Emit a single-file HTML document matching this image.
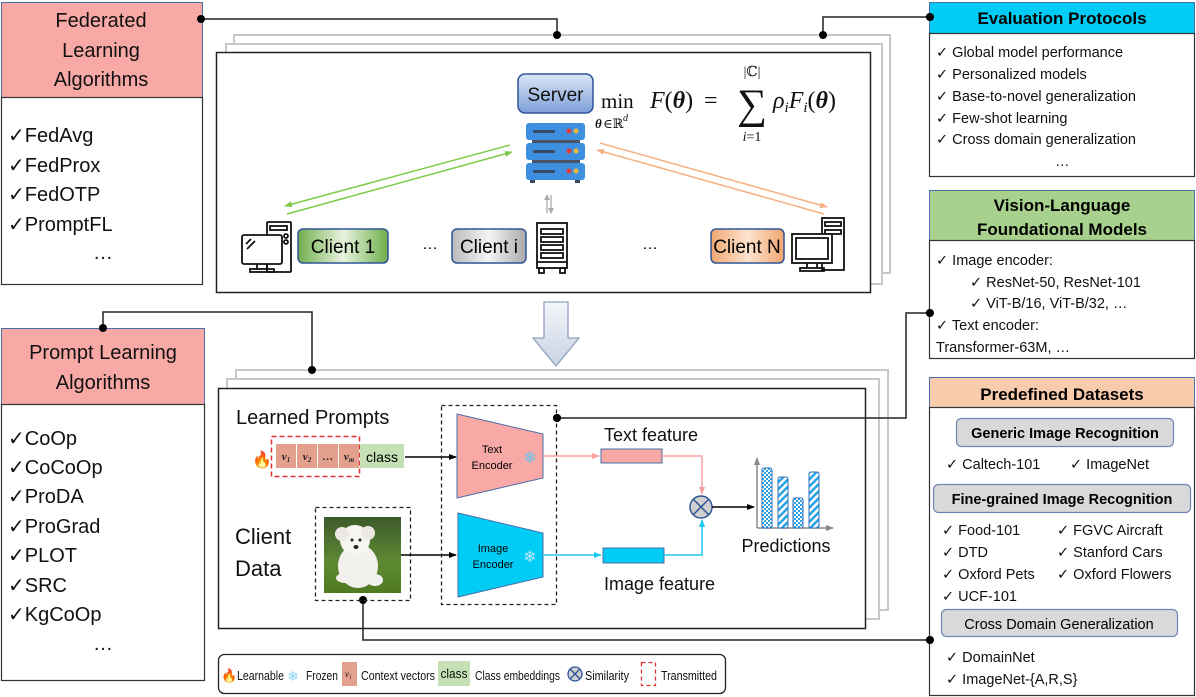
<!DOCTYPE html>
<html><head><meta charset="utf-8"><style>
html,body{margin:0;padding:0;background:#fff;}
svg{display:block;font-family:"Liberation Sans","DejaVu Sans",sans-serif;}
</style></head><body>
<svg width="1196" height="697" viewBox="0 0 1196 697" xmlns="http://www.w3.org/2000/svg">
<defs>
<linearGradient id="gSrv" x1="0" y1="0" x2="0" y2="1"><stop offset="0" stop-color="#dbe6f7"/><stop offset="1" stop-color="#7d9fd6"/></linearGradient>
<linearGradient id="gC1" x1="0" y1="0" x2="1" y2="0"><stop offset="0" stop-color="#6fae4b"/><stop offset="0.5" stop-color="#e8f3df"/><stop offset="1" stop-color="#6fae4b"/></linearGradient>
<linearGradient id="gCi" x1="0" y1="0" x2="1" y2="0"><stop offset="0" stop-color="#bbb"/><stop offset="0.5" stop-color="#f4f4f4"/><stop offset="1" stop-color="#aaa"/></linearGradient>
<linearGradient id="gCN" x1="0" y1="0" x2="1" y2="0"><stop offset="0" stop-color="#f0a670"/><stop offset="0.5" stop-color="#fde3cf"/><stop offset="1" stop-color="#f0a670"/></linearGradient>
<linearGradient id="gArr" x1="0" y1="0" x2="0" y2="1"><stop offset="0" stop-color="#f4f6fa"/><stop offset="1" stop-color="#c9d3e3"/></linearGradient>
<linearGradient id="gDog" x1="0" y1="0" x2="0" y2="1"><stop offset="0" stop-color="#3d5a2a"/><stop offset="0.6" stop-color="#5e8a34"/><stop offset="1" stop-color="#4f7a22"/></linearGradient>
<pattern id="pChk" width="4" height="4" patternUnits="userSpaceOnUse"><rect width="4" height="4" fill="#fff"/><rect width="2" height="2" fill="#29a3e6"/><rect x="2" y="2" width="2" height="2" fill="#29a3e6"/></pattern>
<pattern id="pDiag" width="5" height="5" patternUnits="userSpaceOnUse" patternTransform="rotate(45)"><rect width="5" height="5" fill="#fff"/><rect width="2.5" height="5" fill="#29a3e6"/></pattern>
<marker id="aBk" markerWidth="8" markerHeight="8" refX="7" refY="4" orient="auto" markerUnits="userSpaceOnUse"><path d="M0,1 L8,4 L0,7 Z" fill="#000"/></marker>
<marker id="aGr" markerWidth="8" markerHeight="8" refX="7" refY="4" orient="auto" markerUnits="userSpaceOnUse"><path d="M0,1 L8,4 L0,7 Z" fill="#7ecb4a"/></marker>
<marker id="aOr" markerWidth="8" markerHeight="8" refX="7" refY="4" orient="auto" markerUnits="userSpaceOnUse"><path d="M0,1 L8,4 L0,7 Z" fill="#f4b183"/></marker>
<marker id="aPk" markerWidth="8" markerHeight="8" refX="7" refY="4" orient="auto" markerUnits="userSpaceOnUse"><path d="M0,1 L8,4 L0,7 Z" fill="#f6a0a0"/></marker>
<marker id="aBl" markerWidth="8" markerHeight="8" refX="7" refY="4" orient="auto" markerUnits="userSpaceOnUse"><path d="M0,1 L8,4 L0,7 Z" fill="#1ec8f5"/></marker>
<marker id="aGy" markerWidth="8" markerHeight="8" refX="7" refY="4" orient="auto" markerUnits="userSpaceOnUse"><path d="M0,1 L8,4 L0,7 Z" fill="#888"/></marker>
<marker id="aGs" markerWidth="6" markerHeight="6" refX="5" refY="3" orient="auto" markerUnits="userSpaceOnUse"><path d="M0,0 L6,3 L0,6 Z" fill="#aaa"/></marker>
</defs>

<!-- Left: Federated Learning Algorithms -->
<rect x="1.5" y="2.5" width="201" height="95" fill="#f8a9a6" stroke="#4a6ea9" stroke-width="1"/>
<rect x="1.5" y="97.5" width="201" height="187" fill="#fff" stroke="#333" stroke-width="1.2"/>
<g font-size="20" text-anchor="middle" fill="#111">
<text x="101" y="27">Federated</text><text x="101" y="57">Learning</text><text x="101" y="86">Algorithms</text>
</g>
<g font-size="20" fill="#111">
<text x="8" y="142">✓FedAvg</text><text x="8" y="172">✓FedProx</text><text x="8" y="201">✓FedOTP</text><text x="8" y="231">✓PromptFL</text><text x="93" y="259">…</text>
</g>

<!-- Left: Prompt Learning Algorithms -->
<rect x="1.5" y="328.5" width="203" height="76" fill="#f8a9a6" stroke="#4a6ea9" stroke-width="1"/>
<rect x="1.5" y="404.5" width="203" height="276" fill="#fff" stroke="#333" stroke-width="1.2"/>
<g font-size="20" text-anchor="middle" fill="#111">
<text x="103" y="359">Prompt Learning</text><text x="103" y="389">Algorithms</text>
</g>
<g font-size="20" fill="#111">
<text x="8" y="445">✓CoOp</text><text x="8" y="474">✓CoCoOp</text><text x="8" y="503">✓ProDA</text><text x="8" y="533">✓ProGrad</text><text x="8" y="562">✓PLOT</text><text x="8" y="592">✓SRC</text><text x="8" y="621">✓KgCoOp</text><text x="93" y="650">…</text>
</g>

<!-- Top panel stacked -->
<rect x="234" y="35" width="656" height="238" fill="#fff" stroke="#c8c8c8" stroke-width="2"/>
<rect x="226" y="44" width="656" height="240" fill="#fff" stroke="#c8c8c8" stroke-width="2"/>
<rect x="216.5" y="52.5" width="654" height="240" fill="#fff" stroke="#222" stroke-width="1.5"/>

<!-- bottom panel stacked -->
<rect x="236" y="370" width="652" height="240" fill="#fff" stroke="#c8c8c8" stroke-width="2"/>
<rect x="227" y="379" width="652" height="240" fill="#fff" stroke="#c8c8c8" stroke-width="2"/>
<rect x="218.5" y="388.5" width="647" height="240" fill="#fff" stroke="#222" stroke-width="1.5"/>

<!-- connectors -->
<g stroke="#222" stroke-width="1.5" fill="none">
<polyline points="201,19 557,19 557,35"/>
<polyline points="930,17 823,17 823,35"/>
<polyline points="103,328 103,312 312,312 312,370"/>
<polyline points="930,313 906,313 906,418 557,418"/>
<polyline points="930,640 363,640 363,600"/>
</g>
<g fill="#000">
<circle cx="201" cy="19" r="4"/><circle cx="557" cy="35" r="4"/><circle cx="930" cy="17" r="4"/><circle cx="823" cy="35" r="4"/>
<circle cx="103" cy="328" r="4"/><circle cx="312" cy="370" r="4"/><circle cx="930" cy="313" r="4"/><circle cx="557" cy="418" r="4"/>
<circle cx="930" cy="640" r="4"/><circle cx="363" cy="600" r="4"/>
</g>

<!-- server -->
<rect x="518" y="74" width="75" height="39" rx="7" fill="url(#gSrv)" stroke="#2f5597" stroke-width="1.5"/>
<text x="555.5" y="101" font-size="19" text-anchor="middle" fill="#111">Server</text>
<g>
<rect x="532" y="140" width="48" height="6" fill="#4a5568"/><rect x="532" y="160" width="48" height="6" fill="#4a5568"/>
<rect x="526" y="123" width="59" height="17" rx="3" fill="#3d8fe0"/>
<rect x="526" y="143" width="59" height="17" rx="3" fill="#3d8fe0"/>
<rect x="526" y="163" width="59" height="17" rx="3" fill="#3d8fe0"/>
<g fill="#3b4a63"><rect x="533" y="130" width="22" height="3" rx="1"/><rect x="533" y="150" width="22" height="3" rx="1"/><rect x="533" y="170" width="22" height="3" rx="1"/>
<rect x="530" y="180" width="5" height="3"/><rect x="575" y="180" width="5" height="3"/></g>
<g fill="#e53935"><circle cx="569" cy="131" r="2.5"/><circle cx="569" cy="151" r="2.5"/><circle cx="569" cy="171" r="2.5"/></g>
<g fill="#f6b93b"><circle cx="576" cy="131" r="2.5"/><circle cx="576" cy="151" r="2.5"/><circle cx="576" cy="171" r="2.5"/></g>
</g>
<!-- formula -->
<g font-family="'Liberation Serif','DejaVu Serif',serif" fill="#111">
<text x="601" y="108" font-size="21">min</text>
<text x="595" y="128" font-size="13" font-weight="bold" font-style="italic">θ</text><text x="603" y="128" font-size="13">∈ℝ</text><text x="623" y="121" font-size="10" font-style="italic">d</text>
<text x="650" y="108" font-size="24"><tspan font-style="italic">F</tspan>(<tspan font-weight="bold" font-style="italic">θ</tspan>)</text>
<text x="704" y="108" font-size="24">=</text>
<text x="752" y="76" font-size="14" text-anchor="middle">|ℂ|</text>
<text x="752" y="118" font-size="42" text-anchor="middle">∑</text>
<text x="752" y="141" font-size="14" text-anchor="middle"><tspan font-style="italic">i</tspan>=1</text>
<text x="773" y="108" font-size="24"><tspan font-style="italic">ρ</tspan><tspan font-size="15" font-style="italic" dy="4">i</tspan><tspan font-style="italic" dy="-4">F</tspan><tspan font-size="15" font-style="italic" dy="4">i</tspan><tspan dy="-4">(</tspan><tspan font-weight="bold" font-style="italic">θ</tspan>)</text>
</g>
<!-- arrows -->
<line x1="510" y1="145" x2="285" y2="206" stroke="#7ecb4a" stroke-width="1.5" marker-end="url(#aGr)"/>
<line x1="287" y1="214" x2="512" y2="152" stroke="#7ecb4a" stroke-width="1.5" marker-end="url(#aGr)"/>
<line x1="600" y1="143" x2="827" y2="207" stroke="#f4b183" stroke-width="1.5" marker-end="url(#aOr)"/>
<line x1="824" y1="214" x2="597" y2="150" stroke="#f4b183" stroke-width="1.5" marker-end="url(#aOr)"/>
<line x1="547" y1="213" x2="547" y2="195" stroke="#aaa" stroke-width="1.3" marker-end="url(#aGs)"/>
<line x1="551" y1="195" x2="551" y2="213" stroke="#aaa" stroke-width="1.3" marker-end="url(#aGs)"/>
<!-- PC icon 1 -->
<g fill="none" stroke="#111" stroke-width="1.8">
<rect x="267" y="222" width="24" height="50" rx="1"/><rect x="270" y="226" width="17" height="4"/><circle cx="286" cy="236" r="2"/><circle cx="286" cy="242" r="2"/>
<rect x="242" y="235" width="40" height="29" rx="2" fill="#fff"/><line x1="246" y1="244" x2="251" y2="239"/><line x1="247" y1="249" x2="255" y2="241"/>
<line x1="257" y1="264" x2="257" y2="269"/><line x1="267" y1="264" x2="267" y2="269"/><rect x="250" y="269" width="24" height="3"/>
</g>
<rect x="298" y="229" width="90" height="34" rx="5" fill="url(#gC1)" stroke="#2f5597" stroke-width="1.5"/>
<text x="343" y="253" font-size="19" text-anchor="middle">Client 1</text>
<text x="430" y="249" font-size="16" text-anchor="middle">…</text>
<rect x="452" y="229" width="74" height="34" rx="5" fill="url(#gCi)" stroke="#2f5597" stroke-width="1.5"/>
<text x="489" y="253" font-size="19" text-anchor="middle">Client i</text>
<!-- rack -->
<g fill="none" stroke="#111" stroke-width="1.8">
<rect x="537" y="223" width="30" height="45"/><rect x="541" y="229" width="22" height="5"/><rect x="541" y="237" width="22" height="5"/><rect x="541" y="245" width="22" height="5"/><rect x="541" y="253" width="22" height="5"/>
<line x1="537" y1="262" x2="567" y2="262"/><rect x="539" y="268" width="5" height="5"/><rect x="560" y="268" width="5" height="5"/>
</g>
<text x="650" y="249" font-size="16" text-anchor="middle">…</text>
<rect x="711" y="229" width="73" height="34" rx="5" fill="url(#gCN)" stroke="#2f5597" stroke-width="1.5"/>
<text x="747" y="253" font-size="19" text-anchor="middle">Client N</text>
<!-- PC icon N -->
<g fill="none" stroke="#111" stroke-width="1.8">
<rect x="822" y="218" width="22" height="52"/><rect x="825" y="222" width="16" height="4"/><rect x="825" y="230" width="16" height="4"/>
<rect x="792" y="234" width="40" height="29" fill="#fff"/><rect x="796" y="238" width="32" height="21"/>
<line x1="807" y1="263" x2="807" y2="268"/><line x1="817" y1="263" x2="817" y2="268"/><rect x="800" y="268" width="24" height="3"/>
</g>

<!-- big down arrow -->
<path d="M544,302 L568,302 L568,338 L579,338 L556,366 L533,338 L544,338 Z" fill="url(#gArr)" stroke="#8fa2c0" stroke-width="1.3"/>

<text x="236" y="424" font-size="20" fill="#111">Learned Prompts</text>
<text x="252" y="465" font-size="16">🔥</text>
<rect x="271.5" y="436.5" width="88" height="40" fill="none" stroke="#e03030" stroke-width="1.5" stroke-dasharray="5,3"/>
<g fill="#e3a08c"><rect x="276" y="444" width="20" height="24"/><rect x="297" y="444" width="20" height="24"/><rect x="318" y="444" width="20" height="24"/><rect x="339" y="444" width="20" height="24"/></g>
<g font-family="'Liberation Serif',serif" font-size="11" font-weight="bold" font-style="italic" text-anchor="middle" fill="#222">
<text x="286" y="460">v<tspan font-size="7" dy="2">1</tspan></text><text x="307" y="460">v<tspan font-size="7" dy="2">2</tspan></text><text x="328" y="460">…</text><text x="349" y="460">v<tspan font-size="7" dy="2">m</tspan></text>
</g>
<rect x="360" y="444" width="44" height="24" fill="#c5e0b4"/>
<text x="382" y="462" font-size="14" text-anchor="middle">class</text>
<line x1="405" y1="457" x2="456" y2="457" stroke="#000" stroke-width="1.5" marker-end="url(#aBk)"/>

<text x="235" y="544" font-size="22" fill="#111">Client</text>
<text x="235" y="576" font-size="22" fill="#111">Data</text>
<rect x="315.5" y="507.5" width="95" height="93" fill="none" stroke="#222" stroke-width="1.3" stroke-dasharray="4,3"/>
<rect x="324" y="517" width="77" height="76" fill="url(#gDog)"/>
<ellipse cx="358" cy="566" rx="20" ry="22" fill="#f3f1ee"/><circle cx="355" cy="540" r="15" fill="#f7f5f2"/>
<circle cx="342" cy="534" r="7" fill="#ece9e4"/><circle cx="368" cy="533" r="7" fill="#ece9e4"/>
<circle cx="352" cy="540" r="1.5" fill="#222"/><circle cx="360" cy="540" r="1.5" fill="#222"/><ellipse cx="356" cy="547" rx="2.5" ry="2" fill="#222"/>
<ellipse cx="345" cy="578" rx="9" ry="5" fill="#f3f1ee"/><ellipse cx="375" cy="580" rx="8" ry="6" fill="#f3f1ee"/>
<line x1="401" y1="555" x2="456" y2="555" stroke="#000" stroke-width="1.5" marker-end="url(#aBk)"/>

<rect x="441.5" y="405.5" width="115" height="199" fill="none" stroke="#222" stroke-width="1.3" stroke-dasharray="4,3"/>
<circle cx="557" cy="418" r="4" fill="#000"/>
<path d="M457,414 L543,434 L543,478 L457,498 Z" fill="#f8a9a6" stroke="#4a6ea9" stroke-width="1"/>
<text x="492" y="453" font-size="11" text-anchor="middle">Text</text><text x="492" y="469" font-size="11" text-anchor="middle">Encoder</text>
<text x="530" y="463" font-size="16" text-anchor="middle" fill="#69c6ee">❄</text>
<path d="M458,513 L543,533 L543,577 L458,597 Z" fill="#00ccf5" stroke="#4a6ea9" stroke-width="1"/>
<text x="493" y="552" font-size="11" text-anchor="middle">Image</text><text x="493" y="568" font-size="11" text-anchor="middle">Encoder</text>
<text x="530" y="562" font-size="16" text-anchor="middle" fill="#bfe9fa">❄</text>

<text x="604" y="441" font-size="18" fill="#111">Text feature</text>
<line x1="543" y1="456" x2="599" y2="456" stroke="#f6a0a0" stroke-width="1.5" marker-end="url(#aPk)"/>
<rect x="601" y="449" width="61" height="14" fill="#f8a9a6" stroke="#4a6ea9" stroke-width="1"/>
<polyline points="662,456 702,456 702,494" fill="none" stroke="#f6a0a0" stroke-width="1.5" marker-end="url(#aPk)"/>
<line x1="543" y1="555" x2="601" y2="555" stroke="#1ec8f5" stroke-width="1.5" marker-end="url(#aBl)"/>
<rect x="603" y="548" width="61" height="15" fill="#00ccf5" stroke="#4a6ea9" stroke-width="1"/>
<polyline points="664,555 702,555 702,520" fill="none" stroke="#1ec8f5" stroke-width="1.5" marker-end="url(#aBl)"/>
<text x="604" y="590" font-size="18" fill="#111">Image feature</text>
<circle cx="701" cy="507" r="11" fill="#d0d0d0" stroke="#2f5597" stroke-width="1.5"/>
<line x1="693" y1="499" x2="709" y2="515" stroke="#2f5597" stroke-width="1.5"/><line x1="709" y1="499" x2="693" y2="515" stroke="#2f5597" stroke-width="1.5"/>
<line x1="712" y1="507" x2="754" y2="507" stroke="#000" stroke-width="1.5" marker-end="url(#aBk)"/>
<line x1="757" y1="528" x2="757" y2="458" stroke="#888" stroke-width="1.5" marker-end="url(#aGy)"/>
<line x1="757" y1="528" x2="833" y2="528" stroke="#888" stroke-width="1.5" marker-end="url(#aGy)"/>
<rect x="762" y="468" width="10" height="60" rx="2" fill="url(#pChk)" stroke="#2f6fb8"/>
<rect x="778" y="477" width="10" height="51" rx="2" fill="url(#pDiag)" stroke="#2f6fb8"/>
<rect x="793" y="498" width="10" height="30" rx="2" fill="url(#pChk)" stroke="#2f6fb8"/>
<rect x="809" y="472" width="10" height="56" rx="2" fill="url(#pDiag)" stroke="#2f6fb8"/>
<text x="786" y="552" font-size="18" text-anchor="middle" fill="#111">Predictions</text>

<!-- legend -->
<rect x="218.5" y="654.5" width="507" height="39" rx="6" fill="#fff" stroke="#222" stroke-width="1.3"/>
<g font-size="13" fill="#111">
<text x="221" y="680" font-size="13">🔥</text><text x="237" y="680" textLength="47" lengthAdjust="spacingAndGlyphs">Learnable</text>
<text x="287" y="681" font-size="14" fill="#8fd3f2">❄</text><text x="306" y="680" textLength="32" lengthAdjust="spacingAndGlyphs">Frozen</text>
<rect x="342" y="662" width="15" height="24" fill="#e3a08c"/><text x="345" y="677" font-size="9" font-style="italic" font-family="'Liberation Serif',serif">v</text><text x="350" y="679" font-size="6" font-style="italic">i</text>
<text x="361" y="680" textLength="74" lengthAdjust="spacingAndGlyphs">Context vectors</text>
<rect x="438" y="661" width="32" height="25" fill="#c5e0b4"/><text x="454" y="678" text-anchor="middle" textLength="27" lengthAdjust="spacingAndGlyphs">class</text>
<text x="475" y="680" textLength="85" lengthAdjust="spacingAndGlyphs">Class embeddings</text>
<circle cx="575" cy="674" r="7" fill="#d0d0d0" stroke="#2f5597" stroke-width="1.3"/><line x1="570" y1="669" x2="580" y2="679" stroke="#2f5597" stroke-width="1.3"/><line x1="580" y1="669" x2="570" y2="679" stroke="#2f5597" stroke-width="1.3"/>
<text x="585" y="680" textLength="44" lengthAdjust="spacingAndGlyphs">Similarity</text>
<rect x="641.5" y="662.5" width="14" height="23" fill="none" stroke="#e03030" stroke-width="1.3" stroke-dasharray="4,3"/>
<text x="661" y="680" textLength="56" lengthAdjust="spacingAndGlyphs">Transmitted</text>
</g>

<!-- Right: Evaluation Protocols -->
<rect x="929.5" y="2.5" width="265" height="31" fill="#00ccf5" stroke="#4a6ea9" stroke-width="1"/>
<rect x="929.5" y="33.5" width="265" height="143" fill="#fff" stroke="#333" stroke-width="1.2"/>
<text x="1062" y="24" font-size="17" font-weight="bold" text-anchor="middle">Evaluation Protocols</text>
<g font-size="14.5" fill="#111">
<text x="936" y="57">✓ Global model performance</text><text x="936" y="79">✓ Personalized models</text><text x="936" y="101">✓ Base-to-novel generalization</text><text x="936" y="123">✓ Few-shot learning</text><text x="936" y="144">✓ Cross domain generalization</text><text x="1055" y="166">…</text>
</g>
<circle cx="930" cy="17" r="4" fill="#000"/>

<!-- Vision-Language -->
<rect x="929.5" y="190.5" width="265" height="50" fill="#a9d18e" stroke="#4a6ea9" stroke-width="1"/>
<rect x="929.5" y="240.5" width="265" height="118" fill="#fff" stroke="#333" stroke-width="1.2"/>
<text x="1062" y="211" font-size="17" font-weight="bold" text-anchor="middle">Vision-Language</text>
<text x="1062" y="235" font-size="17" font-weight="bold" text-anchor="middle">Foundational Models</text>
<g font-size="14.5" fill="#111">
<text x="936" y="265">✓ Image encoder:</text><text x="970" y="287">✓ ResNet-50, ResNet-101</text><text x="970" y="308">✓ ViT-B/16, ViT-B/32, …</text>
<text x="936" y="330">✓ Text encoder:</text><text x="936" y="352">Transformer-63M, …</text>
</g>
<circle cx="930" cy="313" r="4" fill="#000"/>

<!-- Predefined Datasets -->
<rect x="929.5" y="377.5" width="265" height="30" fill="#f8cbad" stroke="#4a6ea9" stroke-width="1"/>
<rect x="929.5" y="407.5" width="265" height="288" fill="#fff" stroke="#333" stroke-width="1.2"/>
<text x="1062" y="400" font-size="17" font-weight="bold" text-anchor="middle">Predefined Datasets</text>
<rect x="956.5" y="418.5" width="217" height="28" rx="5" fill="#d9d9d9" stroke="#6f86b5" stroke-width="1.2"/>
<text x="1065" y="438" font-size="14.5" font-weight="bold" text-anchor="middle">Generic Image Recognition</text>
<g font-size="14.5" fill="#111"><text x="946" y="469">✓ Caltech-101</text><text x="1070" y="469">✓ ImageNet</text></g>
<rect x="933.5" y="484.5" width="257" height="28" rx="5" fill="#d9d9d9" stroke="#6f86b5" stroke-width="1.2"/>
<text x="1062" y="504" font-size="14.5" font-weight="bold" text-anchor="middle">Fine-grained Image Recognition</text>
<g font-size="14.5" fill="#111">
<text x="942" y="535">✓ Food-101</text><text x="1057" y="535">✓ FGVC Aircraft</text>
<text x="942" y="557">✓ DTD</text><text x="1057" y="557">✓ Stanford Cars</text>
<text x="942" y="579">✓ Oxford Pets</text><text x="1057" y="579">✓ Oxford Flowers</text>
<text x="942" y="601">✓ UCF-101</text>
</g>
<rect x="941.5" y="609.5" width="236" height="27" rx="5" fill="#d9d9d9" stroke="#6f86b5" stroke-width="1.2"/>
<text x="1059" y="629" font-size="14.5" text-anchor="middle">Cross Domain Generalization</text>
<g font-size="14.5" fill="#111"><text x="946" y="662">✓ DomainNet</text><text x="946" y="684">✓ ImageNet-{A,R,S}</text></g>
<circle cx="930" cy="640" r="4" fill="#000"/>
</svg>
</body></html>
